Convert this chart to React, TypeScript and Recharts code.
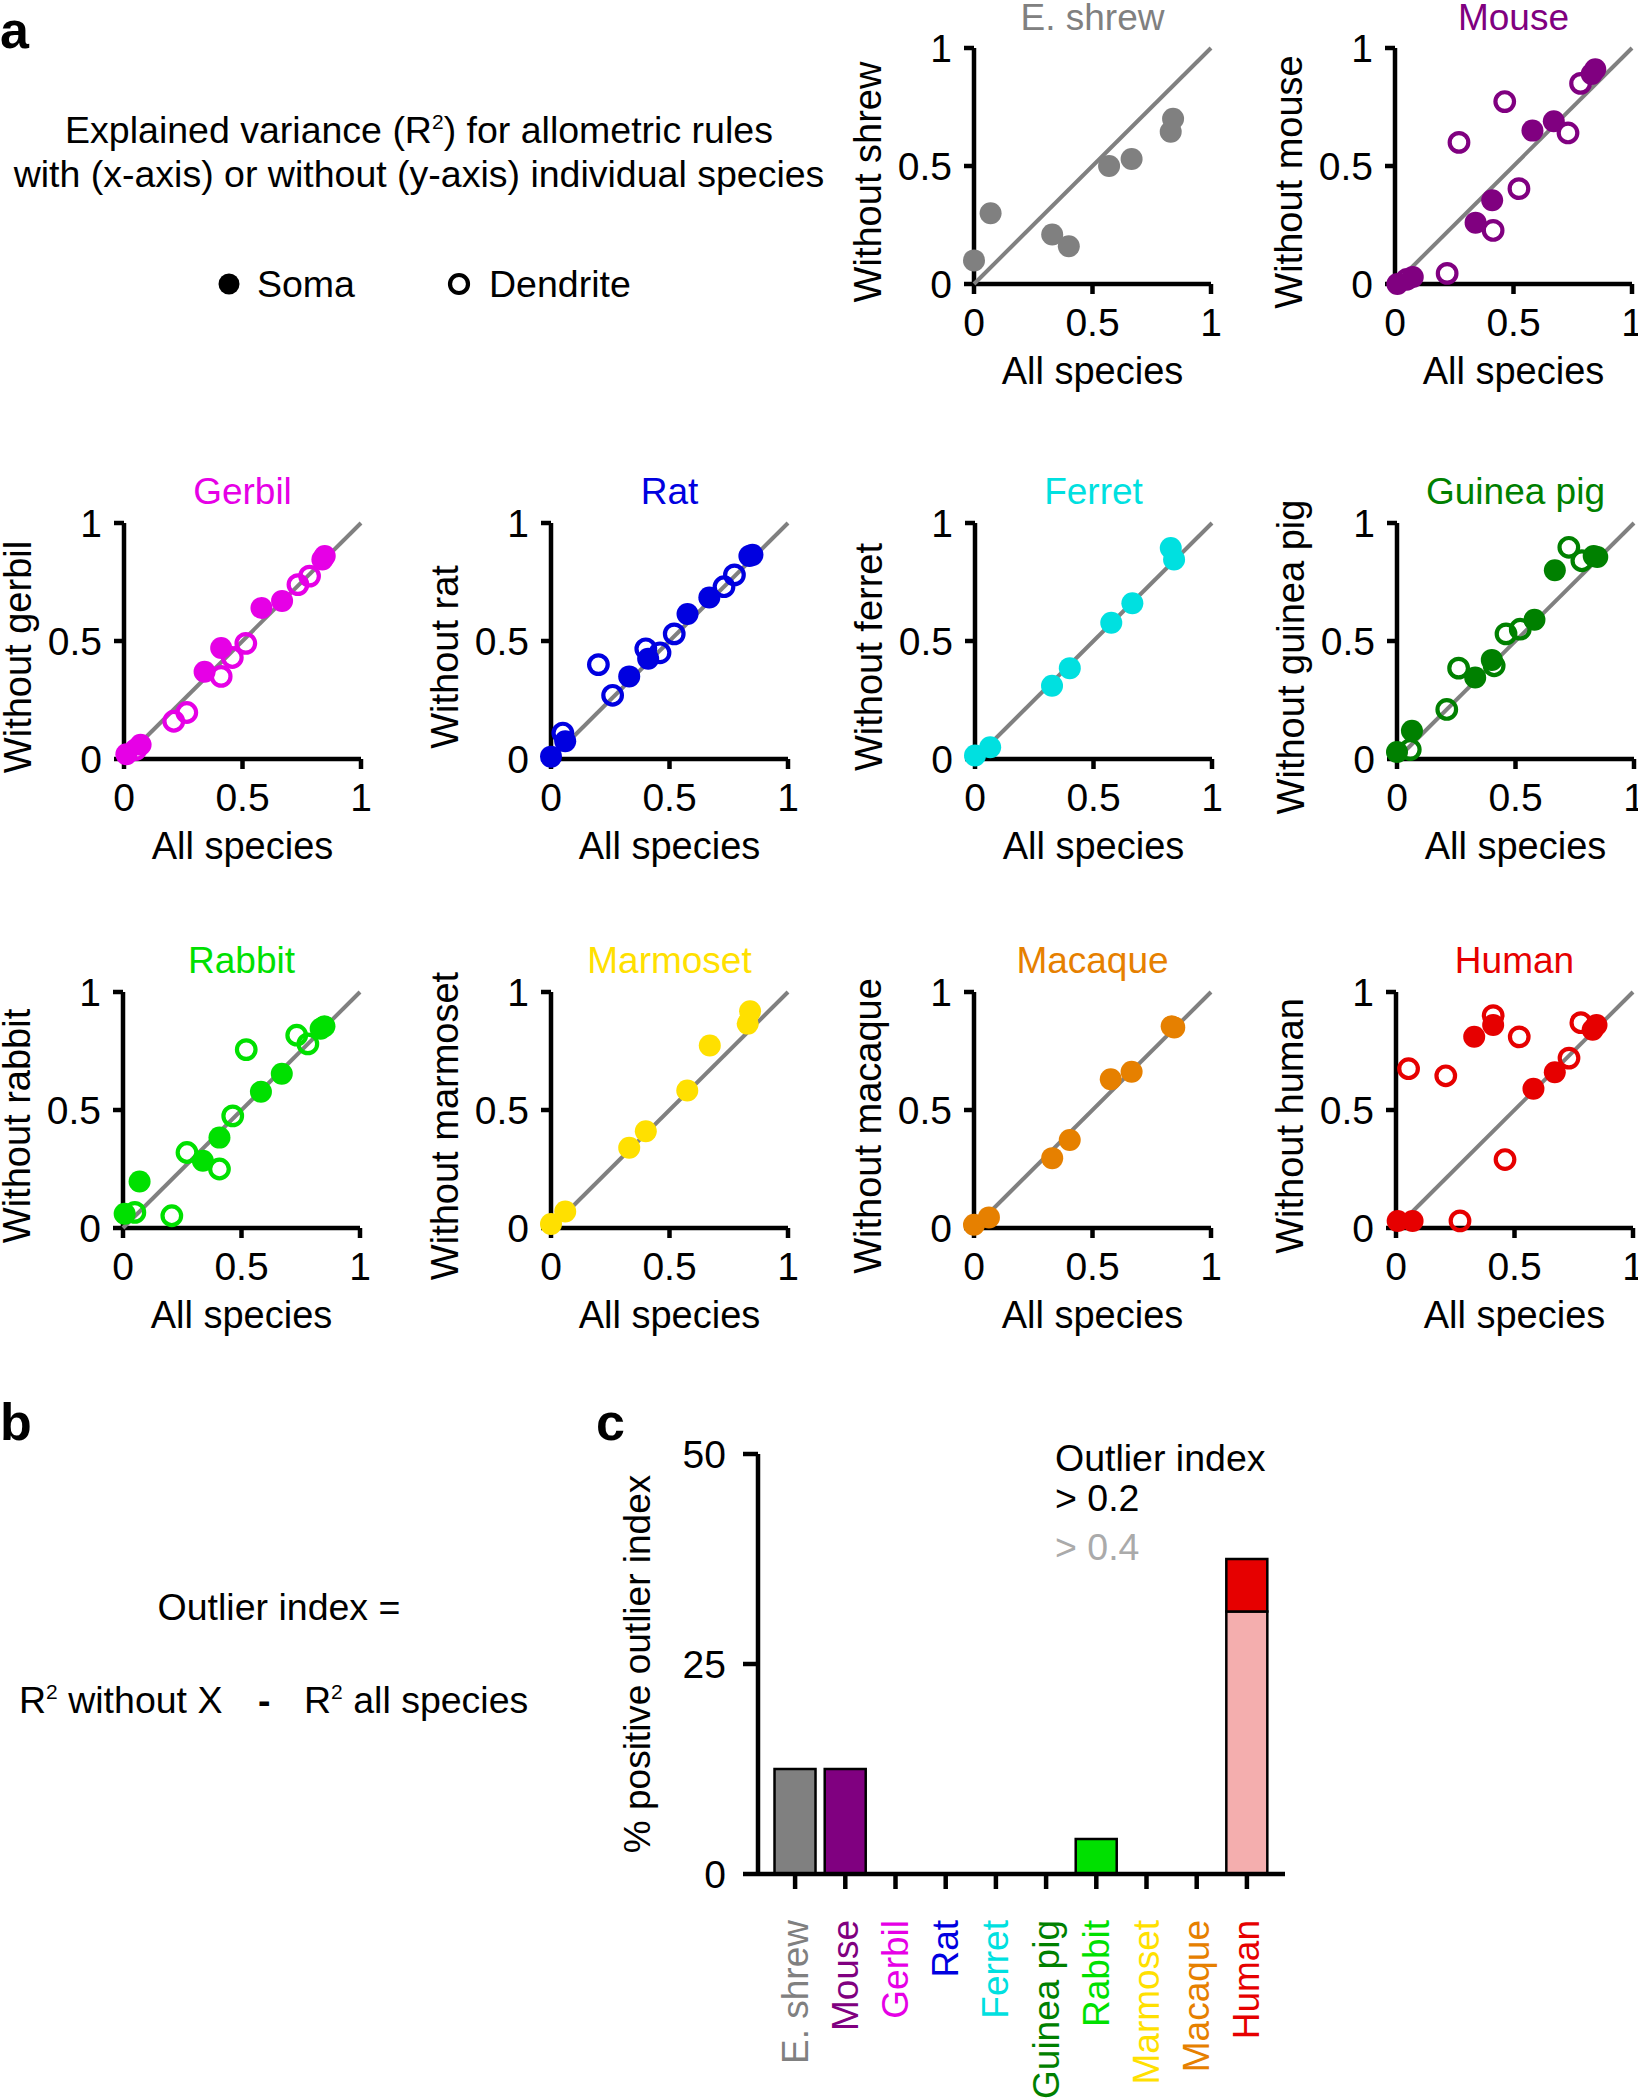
import React from 'react';
import { ScatterChart, Scatter, XAxis, YAxis, BarChart, Bar, Cell } from 'recharts';

const FONT = '"Liberation Sans", Arial, Helvetica, sans-serif';

type Pt = { x: number; y: number };

// ---------- Panel a data (x = R2 all species, y = R2 without species) ----------
const shrewSoma: Pt[] = [
  { x: 0.0, y: 0.1 }, { x: 0.07, y: 0.3 }, { x: 0.33, y: 0.21 }, { x: 0.4, y: 0.16 },
  { x: 0.57, y: 0.5 }, { x: 0.665, y: 0.53 }, { x: 0.83, y: 0.645 }, { x: 0.84, y: 0.7 },
];
const shrewDend: Pt[] = [];

const mouseSoma: Pt[] = [
  { x: 0.01, y: 0.0 }, { x: 0.075, y: 0.03 }, { x: 0.34, y: 0.26 }, { x: 0.41, y: 0.355 },
  { x: 0.58, y: 0.65 }, { x: 0.67, y: 0.69 }, { x: 0.83, y: 0.89 }, { x: 0.845, y: 0.91 },
];
const mouseDend: Pt[] = [
  { x: 0.05, y: 0.02 }, { x: 0.22, y: 0.045 }, { x: 0.27, y: 0.6 }, { x: 0.414, y: 0.227 },
  { x: 0.463, y: 0.773 }, { x: 0.523, y: 0.404 }, { x: 0.73, y: 0.64 }, { x: 0.783, y: 0.85 },
];

const gerbilSoma: Pt[] = [
  { x: 0.01, y: 0.02 }, { x: 0.07, y: 0.06 }, { x: 0.34, y: 0.37 }, { x: 0.41, y: 0.47 },
  { x: 0.58, y: 0.64 }, { x: 0.667, y: 0.67 }, { x: 0.837, y: 0.845 }, { x: 0.847, y: 0.86 },
];
const gerbilDend: Pt[] = [
  { x: 0.05, y: 0.04 }, { x: 0.21, y: 0.16 }, { x: 0.265, y: 0.197 }, { x: 0.41, y: 0.35 },
  { x: 0.457, y: 0.43 }, { x: 0.514, y: 0.49 }, { x: 0.734, y: 0.739 }, { x: 0.783, y: 0.775 },
];

const ratSoma: Pt[] = [
  { x: 0.0, y: 0.01 }, { x: 0.06, y: 0.075 }, { x: 0.33, y: 0.35 }, { x: 0.41, y: 0.425 },
  { x: 0.576, y: 0.614 }, { x: 0.668, y: 0.684 }, { x: 0.837, y: 0.86 }, { x: 0.85, y: 0.865 },
];
const ratDend: Pt[] = [
  { x: 0.05, y: 0.11 }, { x: 0.2, y: 0.4 }, { x: 0.26, y: 0.27 }, { x: 0.4, y: 0.467 },
  { x: 0.46, y: 0.45 }, { x: 0.52, y: 0.53 }, { x: 0.73, y: 0.73 }, { x: 0.774, y: 0.78 },
];

const ferretSoma: Pt[] = [
  { x: 0.0, y: 0.015 }, { x: 0.064, y: 0.05 }, { x: 0.325, y: 0.31 }, { x: 0.4, y: 0.385 },
  { x: 0.575, y: 0.577 }, { x: 0.664, y: 0.66 }, { x: 0.826, y: 0.894 }, { x: 0.84, y: 0.845 },
];
const ferretDend: Pt[] = [];

const guineaSoma: Pt[] = [
  { x: 0.0, y: 0.03 }, { x: 0.063, y: 0.12 }, { x: 0.33, y: 0.345 }, { x: 0.4, y: 0.42 },
  { x: 0.58, y: 0.59 }, { x: 0.666, y: 0.8 }, { x: 0.83, y: 0.86 }, { x: 0.845, y: 0.856 },
];
const guineaDend: Pt[] = [
  { x: 0.056, y: 0.04 }, { x: 0.21, y: 0.21 }, { x: 0.26, y: 0.385 }, { x: 0.41, y: 0.395 },
  { x: 0.46, y: 0.53 }, { x: 0.52, y: 0.55 }, { x: 0.725, y: 0.897 }, { x: 0.78, y: 0.84 },
];

const rabbitSoma: Pt[] = [
  { x: 0.007, y: 0.06 }, { x: 0.07, y: 0.197 }, { x: 0.337, y: 0.285 }, { x: 0.407, y: 0.383 },
  { x: 0.582, y: 0.577 }, { x: 0.67, y: 0.654 }, { x: 0.834, y: 0.844 }, { x: 0.85, y: 0.855 },
];
const rabbitDend: Pt[] = [
  { x: 0.05, y: 0.066 }, { x: 0.206, y: 0.052 }, { x: 0.27, y: 0.32 }, { x: 0.407, y: 0.25 },
  { x: 0.463, y: 0.475 }, { x: 0.52, y: 0.756 }, { x: 0.733, y: 0.817 }, { x: 0.78, y: 0.78 },
];

const marmosetSoma: Pt[] = [
  { x: 0.0, y: 0.017 }, { x: 0.06, y: 0.07 }, { x: 0.33, y: 0.34 }, { x: 0.4, y: 0.41 },
  { x: 0.575, y: 0.583 }, { x: 0.67, y: 0.773 }, { x: 0.83, y: 0.866 }, { x: 0.84, y: 0.918 },
];
const marmosetDend: Pt[] = [];

const macaqueSoma: Pt[] = [
  { x: 0.0, y: 0.014 }, { x: 0.063, y: 0.045 }, { x: 0.33, y: 0.296 }, { x: 0.404, y: 0.373 },
  { x: 0.577, y: 0.63 }, { x: 0.665, y: 0.662 }, { x: 0.834, y: 0.855 }, { x: 0.845, y: 0.85 },
];
const macaqueDend: Pt[] = [];

const humanSoma: Pt[] = [
  { x: 0.007, y: 0.03 }, { x: 0.07, y: 0.03 }, { x: 0.33, y: 0.81 }, { x: 0.41, y: 0.86 },
  { x: 0.58, y: 0.59 }, { x: 0.67, y: 0.66 }, { x: 0.83, y: 0.84 }, { x: 0.846, y: 0.86 },
];
const humanDend: Pt[] = [
  { x: 0.053, y: 0.675 }, { x: 0.21, y: 0.645 }, { x: 0.27, y: 0.03 }, { x: 0.41, y: 0.9 },
  { x: 0.46, y: 0.29 }, { x: 0.52, y: 0.81 }, { x: 0.73, y: 0.72 }, { x: 0.78, y: 0.87 },
];

const identityLine: Pt[] = [{ x: 0, y: 0 }, { x: 1, y: 1 }];
const unitTicks = [0, 0.5, 1];

// ---------- Panel c data ----------
const categories = ['E. shrew', 'Mouse', 'Gerbil', 'Rat', 'Ferret', 'Guinea pig', 'Rabbit', 'Marmoset', 'Macaque', 'Human'];
const speciesColors = ['#808080', '#800080', '#e600e6', '#0000e0', '#00e0e0', '#008000', '#00e000', '#ffe000', '#e68000', '#e60000'];
const pctAbove02 = [12.5, 12.5, 0, 0, 0, 0, 4.17, 0, 0, 37.5];
const pctAbove04 = [0, 0, 0, 0, 0, 0, 0, 0, 0, 31.25];
const lightColors = ['#c0c0c0', '#c080c0', '#f080f0', '#8080f0', '#80f0f0', '#80c080', '#80f080', '#fff080', '#f0c080', '#f4aeae'];
const pctTicks = [0, 25, 50];

const barData = categories.map((name, i) => ({
  name,
  low: pctAbove04[i],
  high: pctAbove02[i] - pctAbove04[i],
}));

// ---------- layout ----------
const PW = 237;
const PH = 236;
const YW = 130;
const XH = 120;
const MT = 60;
const MR = 30;
const AXW = 4.5;

const panels = [
  { name: 'E. shrew', ylabel: 'Without shrew', color: speciesColors[0], soma: shrewSoma, dend: shrewDend, left: 974, top: 48 },
  { name: 'Mouse', ylabel: 'Without mouse', color: speciesColors[1], soma: mouseSoma, dend: mouseDend, left: 1395, top: 48 },
  { name: 'Gerbil', ylabel: 'Without gerbil', color: speciesColors[2], soma: gerbilSoma, dend: gerbilDend, left: 124, top: 523 },
  { name: 'Rat', ylabel: 'Without rat', color: speciesColors[3], soma: ratSoma, dend: ratDend, left: 551, top: 523 },
  { name: 'Ferret', ylabel: 'Without ferret', color: speciesColors[4], soma: ferretSoma, dend: ferretDend, left: 975, top: 523 },
  { name: 'Guinea pig', ylabel: 'Without guinea pig', color: speciesColors[5], soma: guineaSoma, dend: guineaDend, left: 1397, top: 523 },
  { name: 'Rabbit', ylabel: 'Without rabbit', color: speciesColors[6], soma: rabbitSoma, dend: rabbitDend, left: 123, top: 992 },
  { name: 'Marmoset', ylabel: 'Without marmoset', color: speciesColors[7], soma: marmosetSoma, dend: marmosetDend, left: 551, top: 992 },
  { name: 'Macaque', ylabel: 'Without macaque', color: speciesColors[8], soma: macaqueSoma, dend: macaqueDend, left: 974, top: 992 },
  { name: 'Human', ylabel: 'Without human', color: speciesColors[9], soma: humanSoma, dend: humanDend, left: 1396, top: 992 },
];

const axisStyle = { stroke: '#000', strokeWidth: AXW };
const tickStyle = { fontSize: 39, fill: '#000', fontFamily: FONT };

const Panel = ({ p }: { p: any }) => {
  const W = YW + PW + MR;
  const H = MT + PH + XH;
  const filled = (props: any) => <circle cx={props.cx} cy={props.cy} r={11} fill={p.color} />;
  const open = (props: any) => (
    <circle cx={props.cx} cy={props.cy} r={9.3} fill="none" stroke={p.color} strokeWidth={4.2} />
  );
  const noMark = () => <g />;
  const xLabel = () => (
    <text x={YW + PW / 2} y={MT + PH + 100} textAnchor="middle" fontSize={38} fontFamily={FONT} fill="#000">
      All species
    </text>
  );
  const yx = YW - 106;
  const yy = MT + PH / 2 + 16;
  const yLabel = () => (
    <text x={yx} y={yy} transform={`rotate(-90, ${yx}, ${yy})`} textAnchor="middle" dominantBaseline="central" fontSize={38} fontFamily={FONT} fill="#000">
      {p.ylabel}
    </text>
  );
  const titleTop = Math.max(MT - 31 - 18, 60 - p.top);
  return (
    <div style={{ position: 'absolute', left: p.left - YW, top: p.top - MT, width: W, height: H }}>
      <ScatterChart width={W} height={H} margin={{ top: MT, right: MR, bottom: 0, left: 0 }}>
        <XAxis
          type="number"
          dataKey="x"
          domain={[0, 1]}
          ticks={unitTicks}
          interval={0}
          height={XH}
          stroke="#000"
          strokeWidth={AXW}
          axisLine={axisStyle}
          tickLine={axisStyle}
          tickSize={10}
          tickMargin={14}
          tick={tickStyle}
          label={xLabel}
        />
        <YAxis
          type="number"
          dataKey="y"
          domain={[0, 1]}
          ticks={unitTicks}
          interval={0}
          width={YW}
          stroke="#000"
          strokeWidth={AXW}
          axisLine={axisStyle}
          tickLine={axisStyle}
          tickSize={10}
          tickMargin={12}
          tick={tickStyle}
          label={yLabel}
        />
        <Scatter data={identityLine} line={{ stroke: '#808080', strokeWidth: 4 }} shape={noMark} isAnimationActive={false} />
        {p.dend.length > 0 && <Scatter data={p.dend} shape={open} isAnimationActive={false} />}
        <Scatter data={p.soma} shape={filled} isAnimationActive={false} />
      </ScatterChart>
      <div
        style={{
          position: 'absolute',
          left: YW - 40,
          width: PW + 80,
          top: titleTop,
          textAlign: 'center',
          fontSize: 37,
          lineHeight: '36px',
          color: p.color,
          fontFamily: FONT,
          whiteSpace: 'nowrap',
        }}
      >
        {p.name}
      </div>
    </div>
  );
};

const CatTick = (props: any) => {
  const { x, y, payload, index } = props;
  return (
    <text
      x={x}
      y={y}
      transform={`rotate(-90, ${x}, ${y})`}
      textAnchor="end"
      dominantBaseline="central"
      fontSize={37}
      fontFamily={FONT}
      fill={speciesColors[index]}
    >
      {payload.value}
    </text>
  );
};

const BarPanel = () => {
  const BW = 707;
  const BH = 666;
  const ly = 20 + 210;
  const pctLabel = () => (
    <text x={39} y={ly} transform={`rotate(-90, 39, ${ly})`} textAnchor="middle" dominantBaseline="central" fontSize={37} fontFamily={FONT} fill="#000">
      % positive outlier index
    </text>
  );
  return (
    <div style={{ position: 'absolute', left: 598, top: 1434, width: BW, height: BH }}>
      <BarChart width={BW} height={BH} data={barData} margin={{ top: 20, right: 20, bottom: 0, left: 0 }} barCategoryGap="9%">
        <XAxis
          dataKey="name"
          type="category"
          interval={0}
          height={BH - 20 - 420}
          padding={{ left: 12, right: 13 }}
          stroke="#000"
          strokeWidth={AXW}
          axisLine={axisStyle}
          tickLine={axisStyle}
          tickSize={15}
          tickMargin={31}
          tick={<CatTick />}
        />
        <YAxis
          type="number"
          domain={[0, 50]}
          ticks={pctTicks}
          interval={0}
          width={160}
          stroke="#000"
          strokeWidth={AXW}
          axisLine={axisStyle}
          tickLine={axisStyle}
          tickSize={15}
          tickMargin={17}
          tick={tickStyle}
          label={pctLabel}
        />
        <Bar dataKey="low" stackId="s" stroke="#000" strokeWidth={2.5} isAnimationActive={false}>
          {barData.map((d, i) => (
            <Cell key={`l${i}`} fill={lightColors[i]} />
          ))}
        </Bar>
        <Bar dataKey="high" stackId="s" stroke="#000" strokeWidth={2.5} isAnimationActive={false}>
          {barData.map((d, i) => (
            <Cell key={`h${i}`} fill={speciesColors[i]} />
          ))}
        </Bar>
      </BarChart>
    </div>
  );
};

const T = (props: any) => (
  <div
    style={{
      position: 'absolute',
      fontSize: 37.5,
      lineHeight: '36px',
      fontFamily: FONT,
      color: '#000',
      whiteSpace: 'nowrap',
      ...props.style,
    }}
  >
    {props.children}
  </div>
);

const Sup = ({ children }: any) => (
  <span style={{ fontSize: 21, position: 'relative', top: -14 }}>{children}</span>
);

const axisCss = `
.recharts-cartesian-axis-line, .recharts-cartesian-axis-tick-line {
  stroke: #000 !important;
  stroke-width: ${AXW}px !important;
}
`;

export default function App() {
  return (
    <div
      style={{
        position: 'absolute',
        left: 0,
        top: 0,
        width: 1638,
        height: 2100,
        overflow: 'hidden',
        background: '#fff',
        fontFamily: FONT,
      }}
    >
      <style>{axisCss}</style>
      {/* panel letters */}
      <T style={{ left: 0, top: 4, fontSize: 52, lineHeight: '52px', fontWeight: 'bold' }}>a</T>
      <T style={{ left: 0, top: 1396, fontSize: 52, lineHeight: '52px', fontWeight: 'bold' }}>b</T>
      <T style={{ left: 596, top: 1396, fontSize: 52, lineHeight: '52px', fontWeight: 'bold' }}>c</T>

      {/* panel a description */}
      <T style={{ left: 0, width: 838, top: 112, textAlign: 'center' }}>
        Explained variance (R<Sup>2</Sup>) for allometric rules
      </T>
      <T style={{ left: 0, width: 838, top: 156, textAlign: 'center' }}>
        with (x-axis) or without (y-axis) individual species
      </T>
      <svg style={{ position: 'absolute', left: 0, top: 260 }} width={520} height={50}>
        <circle cx={229} cy={24} r={10.5} fill="#000" />
        <circle cx={459} cy={24} r={9} fill="none" stroke="#000" strokeWidth={4.2} />
      </svg>
      <T style={{ left: 257, top: 266 }}>Soma</T>
      <T style={{ left: 489, top: 266 }}>Dendrite</T>

      {panels.map((p) => (
        <Panel key={p.name} p={p} />
      ))}

      {/* panel b */}
      <T style={{ left: 0, width: 558, top: 1589, textAlign: 'center' }}>Outlier index =</T>
      <T style={{ left: 19, top: 1682 }}>
        R<Sup>2</Sup> without X
      </T>
      <T style={{ left: 258, top: 1682, fontWeight: 'bold' }}>-</T>
      <T style={{ left: 304, top: 1682 }}>
        R<Sup>2</Sup> all species
      </T>

      {/* panel c */}
      <BarPanel />
      <T style={{ left: 1055, top: 1440 }}>Outlier index</T>
      <T style={{ left: 1055, top: 1480 }}>&gt; 0.2</T>
      <T style={{ left: 1055, top: 1529, color: '#aaaaaa' }}>&gt; 0.4</T>
    </div>
  );
}
